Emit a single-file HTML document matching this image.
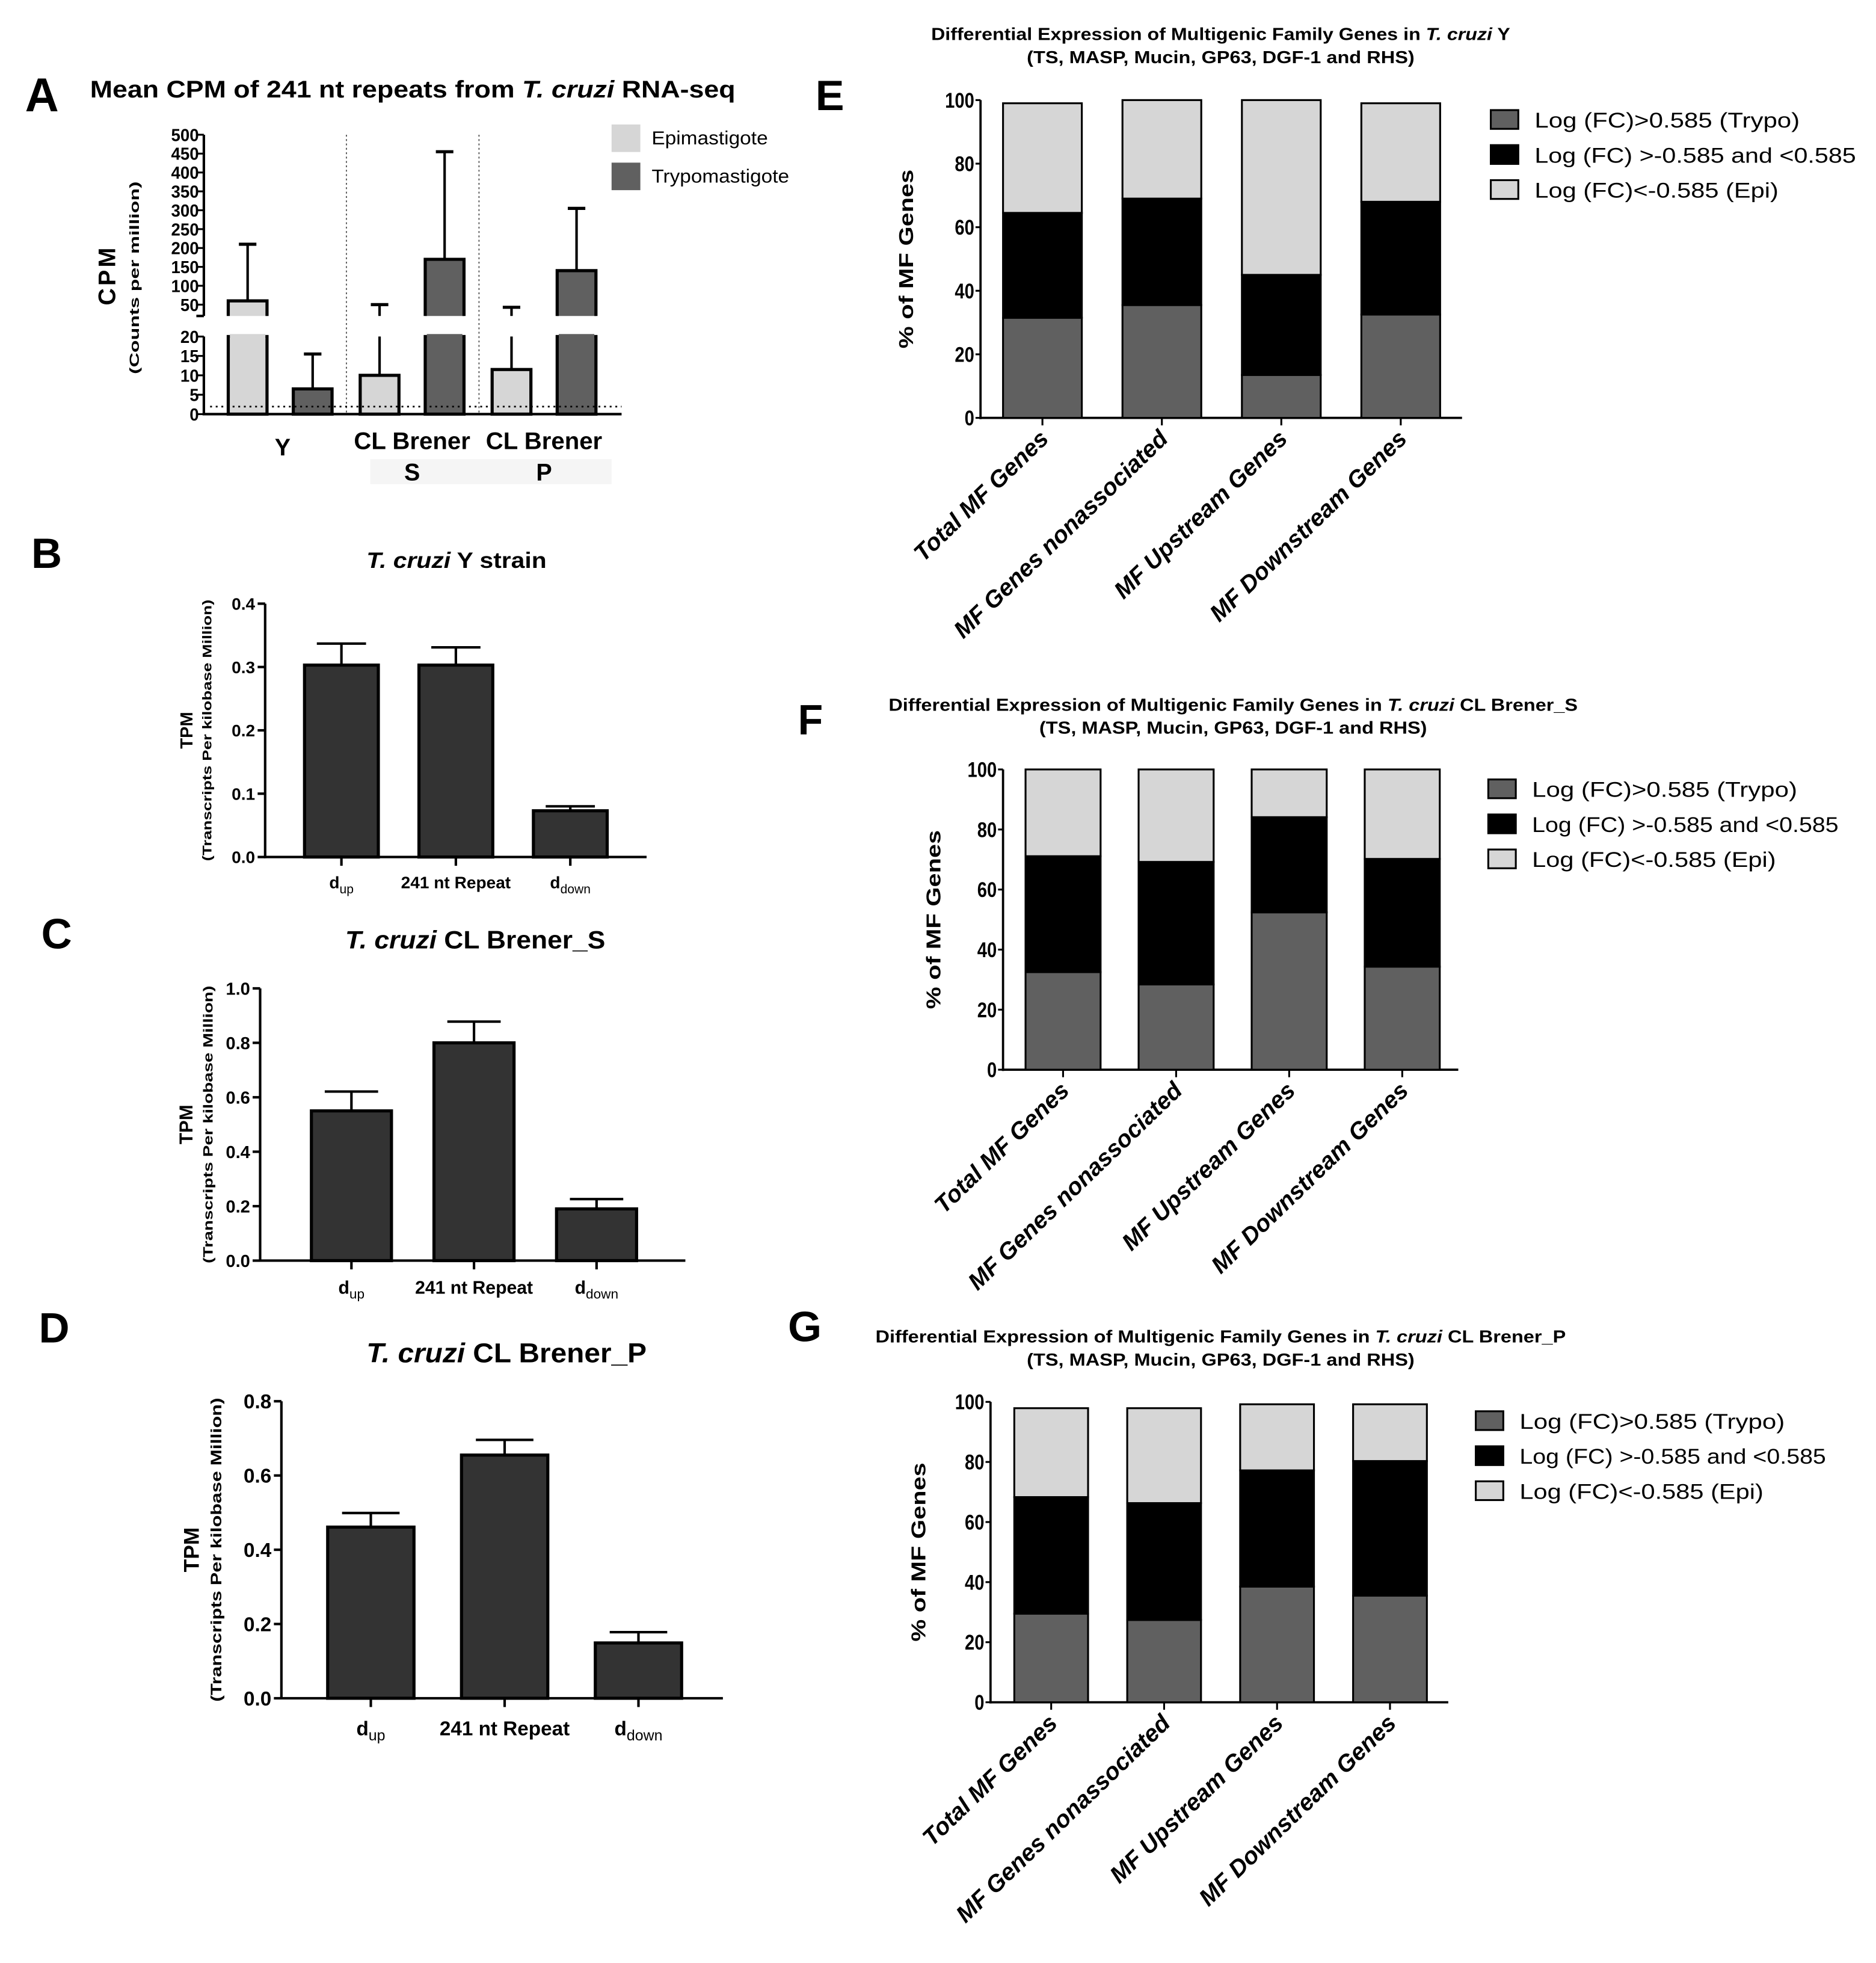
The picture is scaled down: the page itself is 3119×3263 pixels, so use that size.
<!DOCTYPE html>
<html><head><meta charset="utf-8"><style>
html,body{margin:0;padding:0;background:#fff;}
svg{display:block;font-family:"Liberation Sans",Arial,sans-serif;}
</style></head><body>
<svg id="fig" xmlns="http://www.w3.org/2000/svg" width="3119" height="3263" viewBox="0 0 1500 1569" preserveAspectRatio="none">
<rect x="0" y="0" width="1500" height="1569" fill="#fff"/>
</svg>
<script>
// ---- Panel A data ----
const aCategories = ['Y', 'CL Brener S', 'CL Brener P'];
const aEpi = [60, 10, 11.5];
const aEpiErr = [150, 40, 31.5];
const aTrypo = [6.5, 170, 140];
const aTrypoErr = [9, 285, 165];
const aUpperTicks = [50, 100, 150, 200, 250, 300, 350, 400, 450, 500];
const aLowerTicks = [0, 5, 10, 15, 20];
// ---- Panels B-D data ----
const tpmCategories = ['up', '241 nt Repeat', 'down'];
const bVals = [0.303, 0.303, 0.073];
const bErr = [0.034, 0.028, 0.007];
const bTicks = [0, 0.1, 0.2, 0.3, 0.4];
const cVals = [0.55, 0.80, 0.19];
const cErr = [0.071, 0.078, 0.036];
const cTicks = [0, 0.2, 0.4, 0.6, 0.8, 1.0];
const dVals = [0.461, 0.655, 0.149];
const dErr = [0.038, 0.041, 0.029];
const dTicks = [0, 0.2, 0.4, 0.6, 0.8];
// ---- Panels E-G data ----
const mfCategories = ['Total MF Genes', 'MF Genes nonassociated', 'MF Upstream Genes', 'MF Downstream Genes'];
const eTrypo = [31.5, 35.5, 13.5, 32.5];
const eMid = [33, 33.5, 31.5, 35.5];
const eEpi = [34.5, 31, 55, 31];
const fTrypo = [32.5, 28.4, 52.4, 34.3];
const fMid = [38.6, 40.8, 31.7, 35.9];
const fEpi = [28.9, 30.8, 15.9, 29.8];
const gTrypo = [29.5, 27.4, 38.5, 35.5];
const gMid = [38.8, 38.9, 38.7, 44.8];
const gEpi = [29.6, 31.6, 22, 18.9];
const pctTicks = [0, 20, 40, 60, 80, 100];
const legendLabels = ['Log (FC)>0.585 (Trypo)', 'Log (FC) >-0.585 and <0.585', 'Log (FC)<-0.585 (Epi)'];

const NS = 'http://www.w3.org/2000/svg';
const svg = document.getElementById('fig');
function mk(tag, attrs, parent, txt) {
  const e = document.createElementNS(NS, tag);
  for (const k in attrs) e.setAttribute(k, attrs[k]);
  if (txt !== undefined) e.textContent = txt;
  (parent || svg).appendChild(e);
  return e;
}
function grp(name) {
  const g = mk('g', {});
  
  
  return g;
}
const DARK = '#606060', LIGHT = '#d6d6d6';

// ================= Panel A =================
(function () {
  const g = grp('panel-a');
  let t = mk('text', {x: 20, y: 89, 'font-size': 38, 'font-weight': 'bold', textLength: 27, lengthAdjust: 'spacingAndGlyphs'}, g, 'A');
  
  
  t = mk('text', {x: 72, y: 78, 'font-size': 19, 'font-weight': 'bold', textLength: 516, lengthAdjust: 'spacingAndGlyphs'}, g);
  t.innerHTML = 'Mean CPM of 241 nt repeats from <tspan font-style="italic">T. cruzi</tspan> RNA-seq';
  
  
  const X0 = 163, X1 = 497;
  const yU = v => 243.5 - (v - 50) * 0.3018;
  const yL = v => 331 - v * 3.1;
  const yAny = v => v <= 20 ? yL(v) : yU(v);
  let l = mk('line', {x1: X0, y1: yU(500), x2: X0, y2: yU(20), stroke: '#000', 'stroke-width': 2}, g);
  
  
  l = mk('line', {x1: X0, y1: yL(20), x2: X0, y2: yL(0) + 1, stroke: '#000', 'stroke-width': 2}, g);
  
  
  l = mk('line', {x1: X0 - 1, y1: yL(0), x2: X1, y2: yL(0), stroke: '#000', 'stroke-width': 2}, g);
  
  
  l = mk('line', {x1: X0 - 6, y1: yU(20), x2: X0, y2: yU(20), stroke: '#000', 'stroke-width': 2}, g);
  
  
  aUpperTicks.forEach(v => {
    const tk = mk('line', {x1: X0 - 5, y1: yU(v), x2: X0, y2: yU(v), stroke: '#000', 'stroke-width': 1.5}, g);
    
    
    const lb = mk('text', {x: X0 - 4, y: yU(v) + 5, 'font-size': 14, 'font-weight': 'bold', 'text-anchor': 'end', textLength: String(v).length * 7.4, lengthAdjust: 'spacingAndGlyphs'}, g, String(v));
    
    
  });
  aLowerTicks.forEach(v => {
    const tk = mk('line', {x1: X0 - 5, y1: yL(v), x2: X0, y2: yL(v), stroke: '#000', 'stroke-width': 1.5}, g);
    
    
    const lb = mk('text', {x: X0 - 4, y: yL(v) + 5, 'font-size': 14, 'font-weight': 'bold', 'text-anchor': 'end', textLength: String(v).length * 7.4, lengthAdjust: 'spacingAndGlyphs'}, g, String(v));
    
    
  });
  [277, 383].forEach(x => {
    const s = mk('line', {x1: x, y1: yU(500), x2: x, y2: yL(0), stroke: '#444', 'stroke-width': 0.8, 'stroke-dasharray': '1.5,2'}, g);
    
    
  });
  const gc = i => 224 + i * 105.5;
  function bar(cx, v, err, fill, name) {
    const w = 31;
    const topL = yL(Math.min(v, 20));
    const r1 = mk('rect', {x: cx - w / 2, y: topL, width: w, height: yL(0) - topL, fill: fill, stroke: '#000', 'stroke-width': 2.5}, g);
    
    
    if (v > 20) {
      const m = mk('rect', {x: cx - w / 2 + 1.3, y: topL - 2, width: w - 2.6, height: 4, fill: fill}, g);
      
      
      const r2 = mk('path', {d: `M${cx - w / 2},${yU(20)} V${yU(v)} H${cx + w / 2} V${yU(20)}`, fill: fill, stroke: '#000', 'stroke-width': 2.5}, g);
      
      
    }
    const top = v + err;
    let segs = [];
    if (top <= 20) segs.push([yL(v), yL(top)]);
    else if (v >= 20) segs.push([yU(v), yU(top)]);
    else { segs.push([yL(v), yL(20)]); segs.push([yU(20), yU(top)]); }
    segs.forEach(s => {
      const e = mk('line', {x1: cx, y1: s[0], x2: cx, y2: s[1], stroke: '#000', 'stroke-width': 2}, g);
      
      
    });
    const c = mk('line', {x1: cx - 7, y1: yAny(top), x2: cx + 7, y2: yAny(top), stroke: '#000', 'stroke-width': 2.5}, g);
    
    
  }
  aCategories.forEach((c, i) => {
    bar(gc(i) - 26, aEpi[i], aEpiErr[i], LIGHT, 'bar-epi-' + i);
    bar(gc(i) + 26, aTrypo[i], aTrypoErr[i], DARK, 'bar-trypo-' + i);
  });
  l = mk('line', {x1: 168, y1: 325, x2: 497, y2: 325, stroke: '#000', 'stroke-width': 1.3, 'stroke-dasharray': '1.5,3'}, g);
  
  
  const bg = mk('rect', {x: 296, y: 367, width: 193, height: 20, fill: '#f5f5f5'}, g);
  
  
  aCategories.forEach((c, i) => {
    const parts = c === 'Y' ? ['Y'] : ['CL Brener', c.slice(-1)];
    parts.forEach((p, j) => {
      const attrs = {x: gc(i) + (i === 0 ? 2 : 0), y: (i === 0 ? 364 : 359) + j * 25, 'font-size': 19, 'font-weight': 'bold', 'text-anchor': 'middle'};
      if (p.length > 1) { attrs.textLength = 93; attrs.lengthAdjust = 'spacingAndGlyphs'; }
      const tx = mk('text', attrs, g, p);
      
      
    });
  });
  t = mk('text', {x: 92, y: 220, 'font-size': 19, 'font-weight': 'bold', 'text-anchor': 'middle', 'letter-spacing': 2, transform: 'rotate(-90 92 220)'}, g, 'CPM');
  
  
  t = mk('text', {x: 111, y: 222, 'font-size': 10.5, 'font-weight': 'bold', 'text-anchor': 'middle', textLength: 154, lengthAdjust: 'spacingAndGlyphs', transform: 'rotate(-90 111 222)'}, g, '(Counts per million)');
  
  
  [[LIGHT, 'Epimastigote', 99.5], [DARK, 'Trypomastigote', 130]].forEach((L, i) => {
    const r = mk('rect', {x: 489, y: L[2], width: 23, height: 22, fill: L[0]}, g);
    
    
    const tx = mk('text', {x: 521, y: L[2] + 16, 'font-size': 15, textLength: i ? 110 : 93, lengthAdjust: 'spacingAndGlyphs'}, g, L[1]);
    
    
  });
})();

// ================= Panels B, C, D =================
function tpmPanel(o) {
  const g = grp(o.name);
  const y = v => o.y0 - (v / o.max) * (o.y0 - o.yTop);
  let t = mk('text', {x: o.letterX, y: o.letterY, 'font-size': 34, 'font-weight': 'bold'}, g, o.letter);
  
  
  t = mk('text', {x: o.titleX, y: o.titleY, 'font-size': o.titleFs, 'font-weight': 'bold', 'text-anchor': 'middle', textLength: o.titleLen, lengthAdjust: 'spacingAndGlyphs'}, g);
  t.innerHTML = '<tspan font-style="italic">T. cruzi</tspan> ' + o.title;
  
  
  let l = mk('line', {x1: o.ax, y1: o.yTop, x2: o.ax, y2: o.y0 + 1, stroke: '#000', 'stroke-width': 2}, g);
  
  
  l = mk('line', {x1: o.ax - 1, y1: o.y0, x2: o.right, y2: o.y0, stroke: '#000', 'stroke-width': 2}, g);
  
  
  o.ticks.forEach(v => {
    const tk = mk('line', {x1: o.ax - 6, y1: y(v), x2: o.ax, y2: y(v), stroke: '#000', 'stroke-width': 2}, g);
    
    
    const lb = mk('text', {x: o.ax - 8, y: y(v) + o.tickFs * 0.36, 'font-size': o.tickFs, 'font-weight': 'bold', 'text-anchor': 'end'}, g, v.toFixed(1));
    
    
  });
  o.vals.forEach((v, i) => {
    const cx = o.c0 + i * o.step;
    const r = mk('rect', {x: cx - o.w / 2, y: y(v), width: o.w, height: o.y0 - y(v), fill: '#333', stroke: '#000', 'stroke-width': 2.5}, g);
    
    
    const e = mk('line', {x1: cx, y1: y(v), x2: cx, y2: y(v + o.err[i]), stroke: '#000', 'stroke-width': 2}, g);
    
    
    const c = mk('line', {x1: cx - o.w / 3, y1: y(v + o.err[i]), x2: cx + o.w / 3, y2: y(v + o.err[i]), stroke: '#000', 'stroke-width': 2}, g);
    
    
    const tk = mk('line', {x1: cx, y1: o.y0, x2: cx, y2: o.y0 + 7, stroke: '#000', 'stroke-width': 2}, g);
    
    
    const lb = mk('text', {x: cx, y: o.labY, 'font-size': o.labFs, 'font-weight': 'bold', 'text-anchor': 'middle'}, g);
    if (i === 1) lb.textContent = tpmCategories[i];
    else lb.innerHTML = 'd<tspan font-size="' + (o.labFs * 0.75) + '" font-weight="normal" dy="4">' + tpmCategories[i] + '</tspan>';
    
    
  });
  const mid = (o.y0 + o.yTop) / 2;
  t = mk('text', {x: o.tpmX, y: mid, 'font-size': o.tpmFs, 'font-weight': 'bold', 'text-anchor': 'middle', transform: `rotate(-90 ${o.tpmX} ${mid})`}, g, 'TPM');
  
  
  t = mk('text', {x: o.subX, y: mid, 'font-size': o.subFs, 'font-weight': 'bold', 'text-anchor': 'middle', textLength: o.subLen, lengthAdjust: 'spacingAndGlyphs', transform: `rotate(-90 ${o.subX} ${mid})`}, g, '(Transcripts Per kilobase Million)');
  
  
}
tpmPanel({name: 'panel-b', letter: 'B', letterX: 25, letterY: 454, title: 'Y strain', titleX: 365, titleY: 454, titleFs: 18, titleLen: 144,
  ax: 212, right: 517, y0: 685, yTop: 482.5, max: 0.4, ticks: bTicks, vals: bVals, err: bErr, c0: 273, step: 91.5, w: 59,
  tickFs: 13.5, labY: 710, labFs: 13.5, tpmX: 154, tpmFs: 14, subX: 169, subFs: 10, subLen: 209});
tpmPanel({name: 'panel-c', letter: 'C', letterX: 33, letterY: 758, title: 'CL Brener_S', titleX: 380, titleY: 758, titleFs: 20, titleLen: 208,
  ax: 208, right: 548, y0: 1007.6, yTop: 790, max: 1.0, ticks: cTicks, vals: cVals, err: cErr, c0: 281, step: 98, w: 64,
  tickFs: 14, labY: 1034, labFs: 14.5, tpmX: 154, tpmFs: 15, subX: 170, subFs: 10.5, subLen: 222});
tpmPanel({name: 'panel-d', letter: 'D', letterX: 31, letterY: 1073, title: 'CL Brener_P', titleX: 405, titleY: 1089, titleFs: 22, titleLen: 224,
  ax: 225, right: 578, y0: 1357.4, yTop: 1120, max: 0.8, ticks: dTicks, vals: dVals, err: dErr, c0: 296.5, step: 107, w: 69,
  tickFs: 16, labY: 1387, labFs: 16, tpmX: 159, tpmFs: 17, subX: 177, subFs: 12, subLen: 243});

// ================= Panels E, F, G =================
function mfPanel(o) {
  const g = grp(o.name);
  const y = v => o.y0 - (v / 100) * (o.y0 - o.y100);
  let t = mk('text', {x: o.letterX, y: o.letterY, 'font-size': 34, 'font-weight': 'bold', textLength: o.letterW, lengthAdjust: 'spacingAndGlyphs'}, g, o.letter);
  
  
  t = mk('text', {x: o.titleX, y: o.t1Y, 'font-size': 14, 'font-weight': 'bold', 'text-anchor': 'middle', textLength: o.t1Len, lengthAdjust: 'spacingAndGlyphs'}, g);
  t.innerHTML = 'Differential Expression of Multigenic Family Genes in <tspan font-style="italic">T. cruzi</tspan> ' + o.strain;
  
  
  t = mk('text', {x: o.titleX, y: o.t1Y + 18.5, 'font-size': 14, 'font-weight': 'bold', 'text-anchor': 'middle', textLength: 310, lengthAdjust: 'spacingAndGlyphs'}, g, '(TS, MASP, Mucin, GP63, DGF-1 and RHS)');
  
  
  let l = mk('line', {x1: o.ax, y1: o.y100, x2: o.ax, y2: o.y0 + 1, stroke: '#000', 'stroke-width': 1.8}, g);
  
  
  l = mk('line', {x1: o.ax - 1, y1: o.y0, x2: o.right, y2: o.y0, stroke: '#000', 'stroke-width': 1.8}, g);
  
  
  pctTicks.forEach(v => {
    const tk = mk('line', {x1: o.ax - 4, y1: y(v), x2: o.ax, y2: y(v), stroke: '#000', 'stroke-width': 1.5}, g);
    
    
    const lb = mk('text', {x: o.ax - 5, y: y(v) + 6, 'font-size': 17, 'font-weight': 'bold', 'text-anchor': 'end', textLength: String(v).length * 7.8, lengthAdjust: 'spacingAndGlyphs'}, g, String(v));
    
    
  });
  mfCategories.forEach((c, i) => {
    const cx = o.c0 + i * o.step;
    let base = 0;
    [[o.trypo[i], DARK, 'trypo'], [o.mid[i], '#000', 'mid'], [o.epi[i], LIGHT, 'epi']].forEach(s => {
      const r = mk('rect', {x: cx - o.w / 2, y: y(base + s[0]), width: o.w, height: y(base) - y(base + s[0]), fill: s[1], stroke: '#000', 'stroke-width': 1.5}, g);
      
      
      base += s[0];
    });
    const tk = mk('line', {x1: cx, y1: o.y0, x2: cx, y2: o.y0 + 6, stroke: '#000', 'stroke-width': 1.5}, g);
    
    
    const lx = cx + 6, ly = o.y0 + 18;
    const lb = mk('text', {x: lx, y: ly, 'font-size': 19, 'font-weight': 'bold', 'font-style': 'italic', 'text-anchor': 'end', transform: `rotate(-44 ${lx} ${ly})`}, g, c);
    
    
  });
  const mid = (o.y0 + o.y100) / 2;
  t = mk('text', {x: o.ytX, y: mid, 'font-size': 16, 'font-weight': 'bold', 'text-anchor': 'middle', textLength: 143, lengthAdjust: 'spacingAndGlyphs', transform: `rotate(-90 ${o.ytX} ${mid})`}, g, '% of MF Genes');
  
  
  [DARK, '#000', LIGHT].forEach((col, i) => {
    const r = mk('rect', {x: o.legX, y: o.legY + i * 28, width: 22, height: 15, fill: col, stroke: '#000', 'stroke-width': 1.5}, g);
    
    
    const tx = mk('text', {x: o.legX + 35, y: o.legY + i * 28 + 14, 'font-size': 17, textLength: [212, o.l2, 195][i], lengthAdjust: 'spacingAndGlyphs'}, g, legendLabels[i]);
    
    
  });
}
mfPanel({name: 'panel-e', letter: 'E', letterX: 652, letterY: 88, letterW: 23, strain: 'Y', titleX: 976, t1Y: 32, t1Len: 463,
  ax: 784, right: 1169, y0: 334, y100: 80, c0: 833.5, step: 95.5, w: 63, trypo: eTrypo, mid: eMid, epi: eEpi,
  ytX: 730, legX: 1192, legY: 88, l2: 257});
mfPanel({name: 'panel-f', letter: 'F', letterX: 638, letterY: 587, letterW: 20, strain: 'CL Brener_S', titleX: 986, t1Y: 568, t1Len: 551,
  ax: 802, right: 1166, y0: 855, y100: 615, c0: 850, step: 90.4, w: 60, trypo: fTrypo, mid: fMid, epi: fEpi,
  ytX: 752, legX: 1190, legY: 623, l2: 245});
mfPanel({name: 'panel-g', letter: 'G', letterX: 630, letterY: 1072, letterW: 27, strain: 'CL Brener_P', titleX: 976, t1Y: 1073, t1Len: 552,
  ax: 792, right: 1158, y0: 1360.6, y100: 1120.5, c0: 840.5, step: 90.3, w: 59, trypo: gTrypo, mid: gMid, epi: gEpi,
  ytX: 740, legX: 1180, legY: 1128, l2: 245});
</script>
</body></html>
